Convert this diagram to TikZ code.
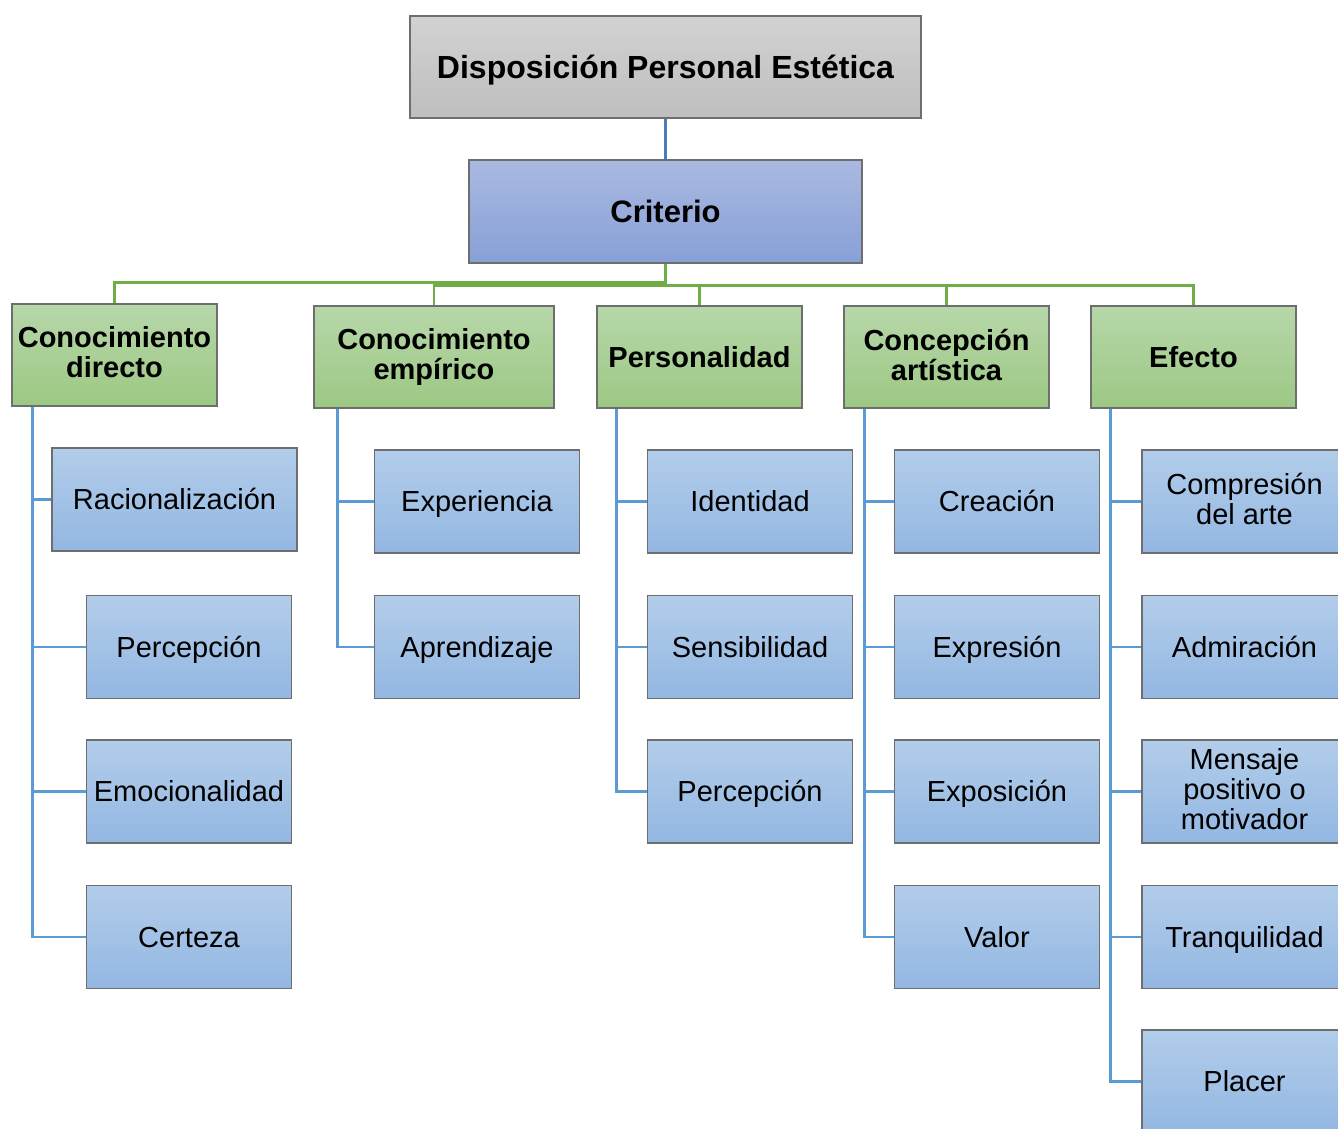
\documentclass[tikz,border=0pt]{standalone}
\usepackage{fontspec}
\setmainfont{Liberation Sans}
\newcommand\boxstrut{\rule[-0.18em]{0pt}{1.08em}}
\definecolor{bordc}{HTML}{6E6E6E}
\definecolor{grayT}{HTML}{D2D2D2}
\definecolor{grayB}{HTML}{BEBEBE}
\definecolor{purT}{HTML}{AAB9E1}
\definecolor{purB}{HTML}{87A0D6}
\definecolor{grnT}{HTML}{B7D7A9}
\definecolor{grnB}{HTML}{9CC883}
\definecolor{bluT}{HTML}{B2CDEA}
\definecolor{bluB}{HTML}{93B7E2}
\definecolor{topline}{HTML}{4A7EBB}
\definecolor{grnline}{HTML}{70AD47}
\definecolor{leafline}{HTML}{5B9BD5}
\tikzset{
  box/.style={draw=bordc, line width=1.3pt, rectangle, align=center, inner sep=0pt, text=black,
     execute at begin node=\boxstrut, execute at end node=\boxstrut},
  rootbox/.style={box, top color=grayT, bottom color=grayB, minimum width=511pt, minimum height=102pt,
     font=\fontsize{32}{33}\selectfont\bfseries},
  critbox/.style={box, top color=purT, bottom color=purB, minimum width=393pt, minimum height=103pt,
     font=\fontsize{31}{32}\selectfont\bfseries},
  catbox/.style={box, top color=grnT, bottom color=grnB, minimum width=205pt, minimum height=102pt,
     font=\fontsize{29}{30}\selectfont\bfseries},
  leafbox/.style={box, top color=bluT, bottom color=bluB, minimum width=205pt, minimum height=103pt,
     font=\fontsize{29}{30}\selectfont},
  rootlink/.style={draw=topline, line width=2.5pt},
  catlink/.style={draw=grnline, line width=2.5pt},
  leaflink/.style={draw=leafline, line width=2.5pt},
}
\begin{document}
\begin{tikzpicture}[x=1pt,y=-1pt]
\useasboundingbox (0,0) rectangle (1338,1129);
\clip (0,0) rectangle (1338,1129);
% top levels
\node[rootbox] (root) at (665.5,67) {Disposición Personal Estética};
\node[critbox] (crit) at (665.5,211.5) {Criterio};
% categories
\node[catbox] (A) at (114.5,355) {Conocimiento\\directo};
\node[catbox, minimum width=240pt] (B) at (434,357) {Conocimiento\\empírico};
\node[catbox] (C) at (699.5,357) {Personalidad};
\node[catbox] (D) at (946.5,357) {Concepción\\artística};
\node[catbox] (E) at (1193.5,357) {Efecto};
% leaves
\node[leafbox, minimum width=245pt] (A1) at (174.5,499.5) {Racionalización};
\node[leafbox] (A2) at (189,647) {Percepción};
\node[leafbox] (A3) at (189,791.5) {Emocionalidad};
\node[leafbox] (A4) at (189,937) {Certeza};
\node[leafbox] (B1) at (477,501.5) {Experiencia};
\node[leafbox] (B2) at (477,647) {Aprendizaje};
\node[leafbox] (C1) at (750,501.5) {Identidad};
\node[leafbox] (C2) at (750,647) {Sensibilidad};
\node[leafbox] (C3) at (750,791.5) {Percepción};
\node[leafbox] (D1) at (997,501.5) {Creación};
\node[leafbox] (D2) at (997,647) {Expresión};
\node[leafbox] (D3) at (997,791.5) {Exposición};
\node[leafbox] (D4) at (997,937) {Valor};
\node[leafbox] (E1) at (1244.5,501.5) {Compresión\\del arte};
\node[leafbox] (E2) at (1244.5,647) {Admiración};
\node[leafbox] (E3) at (1244.5,791.5) {Mensaje\\positivo o\\motivador};
\node[leafbox] (E4) at (1244.5,937) {Tranquilidad};
\node[leafbox] (E5) at (1244.5,1081.5) {Placer};
% connectors
\draw[rootlink] (root.south) -- (crit.north);
\draw[catlink] (crit.south) -- ++(0,19) -| (A.north);
\draw[catlink] (crit.south) -- ++(0,22) -| (B.north);
\draw[catlink] (crit.south) -- ++(0,22) -| (C.north);
\draw[catlink] (crit.south) -- ++(0,22) -| (D.north);
\draw[catlink] (crit.south) -- ++(0,22) -| (E.north);
\foreach \p/\l/\o in {A/A1/21,A/A2/21,A/A3/21,A/A4/21,B/B1/24,B/B2/24,C/C1/20,C/C2/20,C/C3/20,D/D1/21,D/D2/21,D/D3/21,D/D4/21,E/E1/20,E/E2/20,E/E3/20,E/E4/20,E/E5/20}{
  \draw[leaflink] (\p.south west) ++(\o,0) |- (\l.west);
}
\end{tikzpicture}
\end{document}
